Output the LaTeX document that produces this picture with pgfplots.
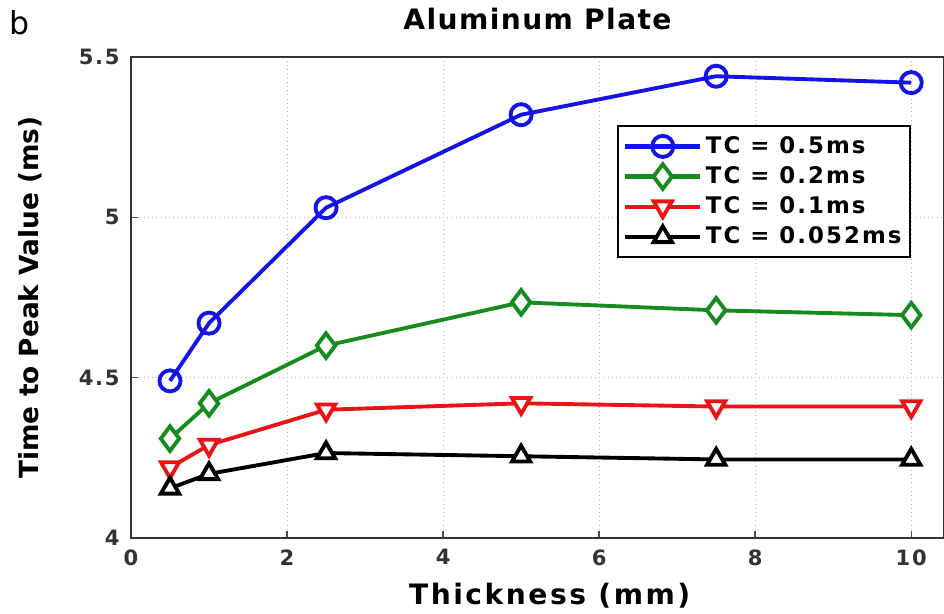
\documentclass[border=0pt]{standalone}
\usepackage{fontspec}
\setmainfont{DejaVu Sans}
\newfontfamily\wideb[LetterSpace=8]{DejaVu Sans}
\newfontfamily\widel[LetterSpace=9]{DejaVu Sans}
\newfontfamily\widex[LetterSpace=9]{DejaVu Sans}
\newfontfamily\widet[LetterSpace=5]{DejaVu Sans}
\usepackage{pgfplots}
\pgfplotsset{compat=1.18}
\begin{document}
\begin{tikzpicture}
\useasboundingbox (-2.62,-1.5) rectangle (16.26,10.76);
\begin{axis}[
  at={(0,0)}, anchor=south west,
  scale only axis, width=16.26cm, height=9.62cm,
  xmin=0, xmax=10.42, ymin=4, ymax=5.5,
  xtick={0,2,4,6,8,10}, ytick={4,4.5,5,5.5},
  yticklabels={4,4.5,5,5.5},
  axis line style={line width=1.6pt, black!80},
  tick style={black!70, line width=0.8pt}, major tick length=4pt,
  tick align=inside, xtick pos=bottom, ytick pos=left,
  grid=major, grid style={dotted, gray!60, line width=0.6pt},
  ticklabel style={font=\wideb\fontsize{12}{14}\selectfont\bfseries, text=black!80},
  /pgf/number format/assume math mode=true,
  xticklabel style={yshift=-3pt},
  yticklabel style={xshift=-3pt},
  xlabel={Thickness (mm)}, ylabel={Time to Peak Value (ms)},
  xlabel style={font=\widex\fontsize{16}{18}\selectfont\bfseries, at={(axis description cs:0.515,-0.1206)}, anchor=center},
  ylabel style={font=\fontsize{15}{17}\selectfont\bfseries, at={(axis description cs:-0.124,0.5)}, anchor=center, rotate=0},
  title={Aluminum Plate},
  title style={font=\widet\fontsize{16}{18}\selectfont\bfseries, at={(axis description cs:0.5,1)}, anchor=center, yshift=0.54cm},
  legend style={at={(0.96,0.859)}, anchor=north east, draw=black, line width=1.4pt,
    font=\widel\fontsize{13}{15}\selectfont\bfseries, row sep=2pt, inner xsep=3pt, inner ysep=4pt,
    cells={anchor=west}},
  legend image code/.code={\draw[#1, line width=2.4pt] (0cm,0cm) -- (1.5cm,0cm); \draw[#1, line width=2.2pt, mark repeat=2, mark phase=2] plot coordinates {(0cm,0cm) (0.75cm,0cm) (1.5cm,0cm)};},
  every axis plot/.append style={line width=2.2pt, mark size=6pt},
]
\addplot[color={rgb,255:red,20;green,20;blue,230}, mark=o, mark options={solid, fill=white, line width=2.2pt}] coordinates {
 (0.5,4.49) (1,4.67) (2.5,5.03) (5,5.32) (7.5,5.44) (10,5.42)};
\addlegendentry{TC = 0.5ms}
\addplot[color={rgb,255:red,20;green,140;blue,30}, mark=diamond*, mark size=7pt, mark options={solid, fill=white, line width=2.2pt}] coordinates {
 (0.5,4.31) (1,4.42) (2.5,4.60) (5,4.735) (7.5,4.71) (10,4.695)};
\addlegendentry{TC = 0.2ms}
\addplot[color={rgb,255:red,235;green,20;blue,20}, mark=triangle*, mark options={solid, fill=white, line width=2.2pt, rotate=180}] coordinates {
 (0.5,4.22) (1,4.29) (2.5,4.40) (5,4.42) (7.5,4.41) (10,4.41)};
\addlegendentry{TC = 0.1ms}
\addplot[color=black, mark=triangle*, mark options={solid, fill=white, line width=2.2pt}] coordinates {
 (0.5,4.155) (1,4.20) (2.5,4.265) (5,4.255) (7.5,4.245) (10,4.245)};
\addlegendentry{TC = 0.052ms}
\end{axis}
\node[font=\fontsize{18}{20}\selectfont] at (-2.22,10.3) {b};
\end{tikzpicture}
\end{document}
